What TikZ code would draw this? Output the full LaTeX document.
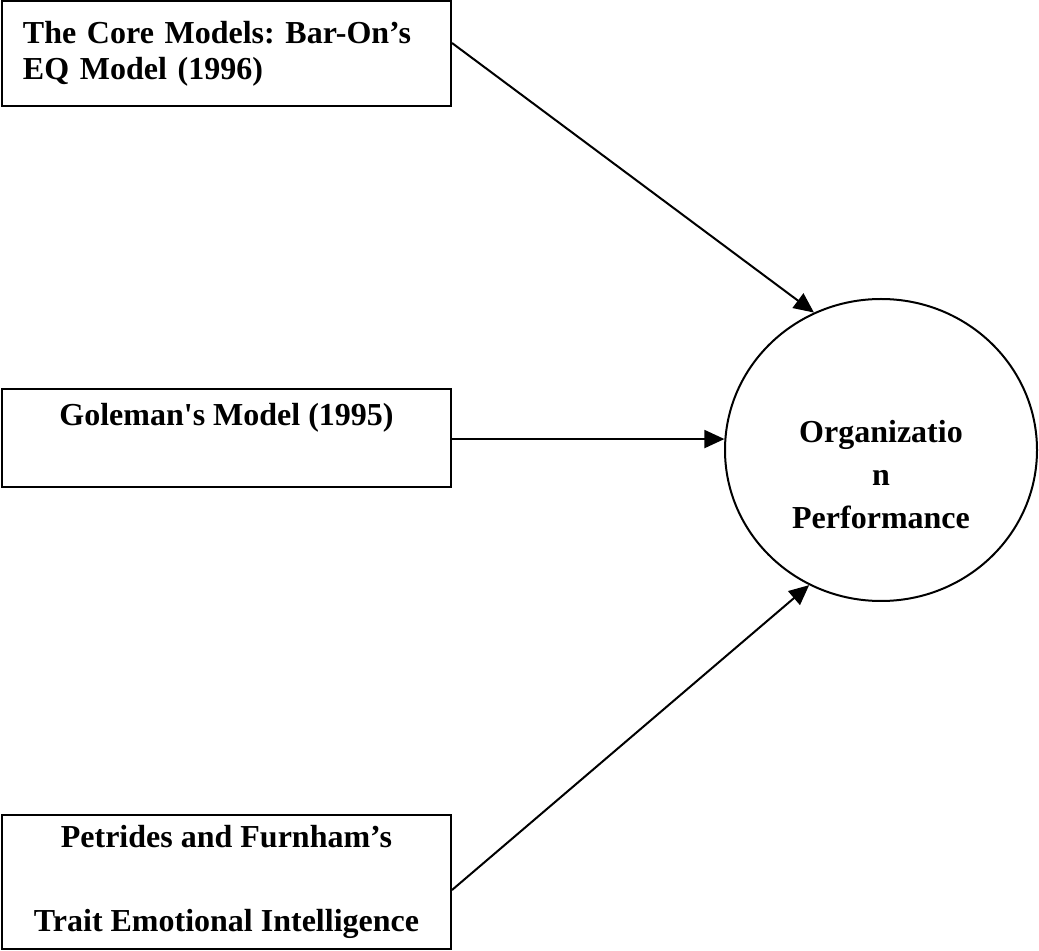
\documentclass[tikz,border=0pt]{standalone}
\usepackage{fontspec}
\setmainfont{Liberation Serif}
\usetikzlibrary{shapes.geometric,arrows.meta}

\tikzset{
  model/.style={draw, line width=1pt, minimum width=224.5pt, inner sep=0pt,
    align=center, font=\bfseries\fontsize{16}{18}\selectfont\frenchspacing},
  outcome/.style={draw, ellipse, line width=1pt, minimum width=156pt,
    minimum height=151pt, inner sep=0pt},
  link/.style={line width=1pt, -{Triangle[length=10pt,width=9pt]}}
}

\begin{document}
\begin{tikzpicture}[x=0.5pt, y=-0.5pt]
  \useasboundingbox (0,0) rectangle (1039,951);

  % Models on the left
  \node[model, align=left, inner xsep=10.5pt, text width=203.5pt,
    minimum height=52.5pt] (baron) at (226.5,53.5)
    {The Core Models: Bar-On’s\\EQ Model (1996)};
  \node[model, minimum height=49pt] (goleman) at (226.5,438)
    {Goleman\textquotesingle s Model (1995)\\ \strut};
  \node[model, minimum height=67pt] (trait) at (226.5,882)
    {Petrides and Furnham’s\\[24pt]Trait Emotional Intelligence};

  % Outcome
  \node[outcome, label={[align=center, yshift=-12.5pt,
      font=\bfseries\fontsize{16}{21.5}\selectfont]center:Organizatio\\n\\Performance}]
    (perf) at (881,450) {};

  % Links
  \draw[link] ([yshift=5.25pt]baron.east) -- (perf.116);
  \draw[link] (goleman.east |- perf.176) -- (perf.176);
  \draw[link] ([yshift=-4pt]trait.east) -- (perf.242);
\end{tikzpicture}
\end{document}
